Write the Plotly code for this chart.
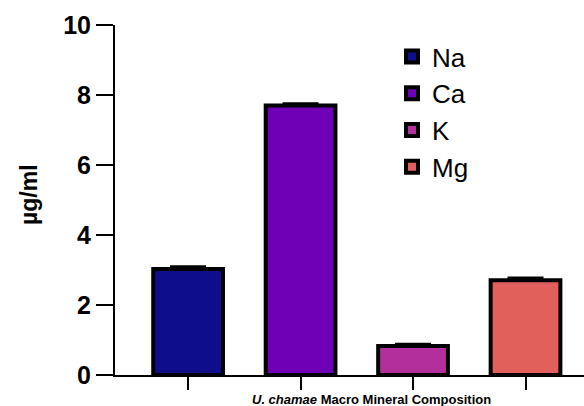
import plotly.graph_objects as go

# Macro mineral content of U. chamae (mean with error)
minerals = ["Na", "Ca", "K", "Mg"]
values = [3.03, 7.70, 0.83, 2.71]
errors = [0.06, 0.05, 0.05, 0.06]
colors = ["#0e0e8c", "#6f00b5", "#b3309c", "#e2605c"]
y_ticks = [0, 2, 4, 6, 8, 10]

W, H = 584, 406
L, R, T, B = 115, 0, 25, 31
PW, PH = W - L - R, H - T - B

fig = go.Figure()
for i, name in enumerate(minerals):
    fig.add_trace(go.Bar(
        x=[i], y=[values[i]], name=name,
        width=0.62,
        marker=dict(color=colors[i], line=dict(color="black", width=4)),
        error_y=dict(type="data", symmetric=False, array=[errors[i]], arrayminus=[0],
                     color="black", thickness=3, width=18),
    ))

fig.update_layout(
    width=W, height=H,
    margin=dict(l=L, r=R, t=T, b=B, autoexpand=False),
    plot_bgcolor="white", paper_bgcolor="white",
    font=dict(family="Liberation Sans, Arial, sans-serif", color="black"),
    barmode="overlay",
    showlegend=True,
    legend=dict(
        x=(392 - L) / PW, y=1 - (33 - T) / PH, xanchor="left", yanchor="top",
        font=dict(size=26, color="black"),
        bgcolor="rgba(0,0,0,0)", tracegroupgap=0,
    ),
    xaxis=dict(
        range=[-0.65, 3.52],
        tickmode="array", tickvals=[0, 1, 2, 3], ticktext=["", "", "", ""],
        ticks="outside", ticklen=13, tickwidth=2, tickcolor="black",
        showline=True, linewidth=2, linecolor="black",
        showgrid=False, zeroline=False, fixedrange=True,
    ),
    yaxis=dict(
        range=[0, 10],
        tickmode="array", tickvals=y_ticks, ticktext=[str(v) for v in y_ticks],
        ticks="outside", ticklen=17, tickwidth=2, tickcolor="black",
        tickfont=dict(size=25, family="Liberation Sans, Arial, sans-serif", weight="bold"),
        showline=True, linewidth=2, linecolor="black",
        showgrid=False, zeroline=False, fixedrange=True,
    ),
    annotations=[
        dict(text="<b>µg/ml</b>", xref="paper", yref="paper",
             x=-(L - 29) / PW, y=1 - (195 - T) / PH, xanchor="center", yanchor="middle",
             textangle=-90, showarrow=False, font=dict(size=23, color="black")),
        dict(text="<b><i>U. chamae</i> Macro Mineral Composition</b>",
             xref="paper", yref="paper",
             x=(371 - L) / PW, y=-(399 - (H - B)) / PH,
             xanchor="center", yanchor="middle", showarrow=False,
             font=dict(size=13, color="black")),
    ],
)

fig.write_html("out.html")
